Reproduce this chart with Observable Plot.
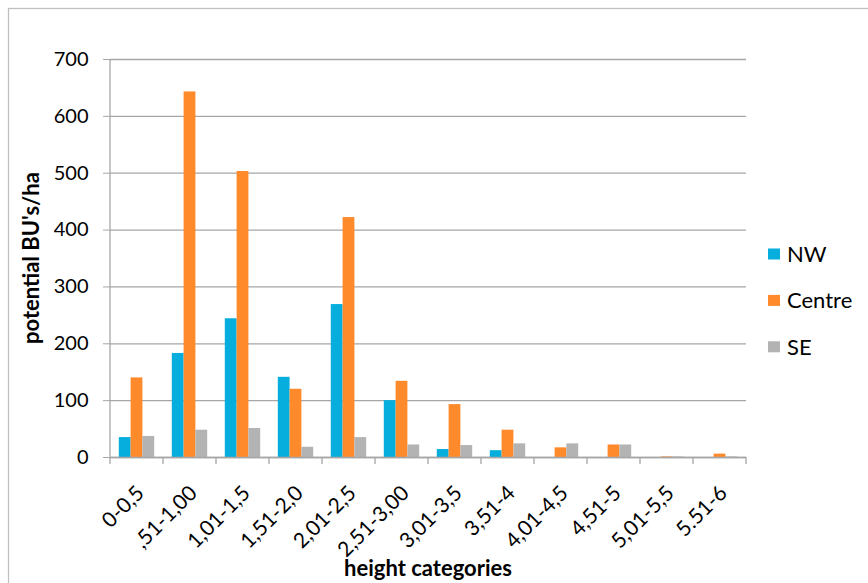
<!DOCTYPE html>
<html><head><meta charset="utf-8">
<script src="https://cdn.jsdelivr.net/npm/d3@7"></script>
<script src="https://cdn.jsdelivr.net/npm/@observablehq/plot@0.6"></script>
<style>
body{margin:0;background:#fff;}
#chart{position:relative;width:868px;height:583px;overflow:hidden;}
#chart svg{position:absolute;left:0;top:0;}
</style>
</head><body><div id="chart"></div>
<script>
const categories = ["0-0,5", ",51-1,00", "1,01-1,5", "1,51-2,0", "2,01-2,5", "2,51-3,00", "3,01-3,5", "3,51-4", "4,01-4,5", "4,51-5", "5,01-5,5", "5.51-6"];
const seriesNames = ["NW", "Centre", "SE"];
const nwValues = [35, 183, 244, 141, 269, 100, 14, 12, 0, 0, 0, 0];
const centreValues = [140, 643, 503, 120, 422, 134, 93, 48, 17, 22, 1, 6];
const seValues = [37, 48, 51, 18, 35, 22, 21, 24, 24, 22, 1, 1];
const yTicks = [0, 100, 200, 300, 400, 500, 600, 700];
const colors = ["#05aedd", "#ff8a2b", "#b3b3b3"];
const yTitle = "potential BU's/ha";
const xTitle = "height categories";

const valuesBySeries = [nwValues, centreValues, seValues];
const rows = [];
seriesNames.forEach((s, si) => categories.forEach((c, ci) => rows.push({category: c, series: s, value: valuesBySeries[si][ci]})));

const W = 868, H = 583, mL = 110, mR = 122, mT = 59, mB = 126;
const bw = (W - mL - mR) / categories.length;
const barW = 11.8;
const font = "Lato, 'Open Sans', sans-serif";

const barMarks = seriesNames.map((s, i) => {
  const inL = (bw - 3 * barW) / 2 + i * barW;
  return Plot.barY(rows.filter(r => r.series === s), {
    x: "category", y: "value", fill: "series",
    insetLeft: inL, insetRight: bw - inL - barW
  });
});

const chart = Plot.plot({
  width: W, height: H,
  marginLeft: mL, marginRight: mR, marginTop: mT, marginBottom: mB,
  style: {fontFamily: font, fontSize: "20px", background: "transparent", color: "#000"},
  x: {domain: categories, padding: 0, axis: null},
  y: {domain: [0, 700], axis: null},
  color: {domain: seriesNames, range: colors},
  marks: [
    Plot.gridY(yTicks, {stroke: "#a6a6a6", strokeOpacity: 1, strokeWidth: 1.3}),
    ...barMarks,
    Plot.ruleY([0], {stroke: "#a6a6a6", strokeWidth: 1.3}),
    Plot.axisY(yTicks, {tickSize: 7, tickPadding: 15, stroke: "#a6a6a6", fill: "#000", fontSize: 20, label: null}),
    Plot.axisX({tickRotate: -45, tickSize: 0, tickPadding: 10, dx: 3.5, dy: 22, fontSize: 21, fill: "#000", label: null})
  ]
});

const root = document.getElementById("chart");
root.appendChild(chart);
const svg = d3.select(chart);
const xs = chart.scale("x");
const ys = chart.scale("y");
const x0 = xs.range[0], x1 = xs.range[1];
const yBase = ys.apply(0), yTop = ys.apply(700);

// outer frame
svg.insert("rect", ":first-child")
  .attr("x", 8.5).attr("y", 8.5).attr("width", 900).attr("height", 900)
  .attr("fill", "none").attr("stroke", "#c0c0c0").attr("stroke-width", 1.3);

// y axis line
svg.append("line").attr("x1", x0).attr("x2", x0).attr("y1", yTop).attr("y2", yBase)
  .attr("stroke", "#a6a6a6").attr("stroke-width", 1.3);

// category boundary ticks
for (let i = 0; i <= categories.length; i++) {
  const x = x0 + i * xs.bandwidth;
  svg.append("line").attr("x1", x).attr("x2", x).attr("y1", yBase).attr("y2", yBase + 7)
    .attr("stroke", "#a6a6a6").attr("stroke-width", 1.3);
}

// axis titles
svg.append("text").attr("x", (x0 + x1) / 2).attr("y", 576).attr("text-anchor", "middle")
  .attr("font-family", font).attr("font-size", 22).attr("font-weight", "bold").text(xTitle);
svg.append("text").attr("transform", `translate(39,${(yTop + yBase) / 2}) rotate(-90)`)
  .attr("text-anchor", "middle").attr("font-family", font).attr("font-size", 22)
  .attr("font-weight", "bold").text(yTitle);

// legend
const lg = svg.append("g").attr("font-family", font).attr("font-size", 22).attr("text-anchor", "start");
seriesNames.forEach((s, i) => {
  const cy = 254 + i * 46.4;
  lg.append("rect").attr("x", 768).attr("y", cy - 5.5).attr("width", 12).attr("height", 11).attr("fill", colors[i]);
  lg.append("text").attr("x", 787).attr("y", cy).attr("dy", "0.35em").text(s);
});
</script>
</body></html>
